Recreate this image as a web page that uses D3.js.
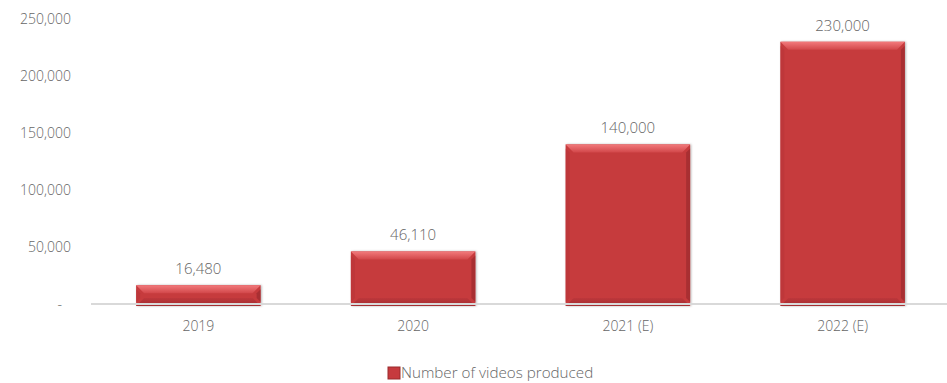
<!DOCTYPE html>
<html>
<head>
<meta charset="utf-8">
<script src="https://cdn.jsdelivr.net/npm/d3@7"></script>
<style>
  body { margin: 0; background: #fff; }
  text { font-family: "Open Sans", "Noto Sans", sans-serif; fill: #666; font-weight: 300; }
</style>
</head>
<body>
<svg id="svg"></svg>
<script>
var years = ["2019", "2020", "2021 (E)", "2022 (E)"];
var videos = [16480, 46110, 140000, 230000];
var yTicks = [0, 50000, 100000, 150000, 200000, 250000];
var seriesName = "Number of videos produced";

var width = 947, height = 383;
var svg = d3.select("#svg").attr("width", width).attr("height", height);

var x = d3.scaleBand().domain(years).range([91, 950]).paddingInner(0.42).paddingOuter(0.21);
var y = d3.scaleLinear().domain([0, 250000]).range([304, 19]);
var fmt = d3.format(",");

var defs = svg.append("defs");
var f = defs.append("filter").attr("id", "sh").attr("x", "-10%").attr("y", "-10%").attr("width", "130%").attr("height", "130%");
f.append("feDropShadow").attr("dx", 1).attr("dy", 0).attr("stdDeviation", 1.2).attr("flood-color", "#000").attr("flood-opacity", 0.3);

var gTop = defs.append("linearGradient").attr("id", "gTop").attr("x1", 0).attr("y1", 0).attr("x2", 0).attr("y2", 1);
gTop.append("stop").attr("offset", 0).attr("stop-color", "#f27a7c");
gTop.append("stop").attr("offset", 1).attr("stop-color", "#d2474a");
var gBot = defs.append("linearGradient").attr("id", "gBot").attr("x1", 0).attr("y1", 0).attr("x2", 0).attr("y2", 1);
gBot.append("stop").attr("offset", 0).attr("stop-color", "#bd373b");
gBot.append("stop").attr("offset", 1).attr("stop-color", "#a32e31");

// y axis labels
svg.append("g").selectAll("text").data(yTicks).enter().append("text")
  .attr("x", function(d) { return d === 0 ? 62 : 71; })
  .attr("y", function(d) { return y(d) + 5; })
  .attr("text-anchor", "end").style("font-size", "14px")
  .text(function(d) { return d === 0 ? "-" : fmt(d); });

var data = years.map(function(k, i) { return {year: k, v: videos[i]}; });
var bw = x.bandwidth(), bev = 8, sbev = 4;

var bars = svg.append("g").selectAll("g").data(data).enter().append("g");
bars.append("rect")
  .attr("x", function(d) { return x(d.year); })
  .attr("y", function(d) { return y(d.v); })
  .attr("width", bw)
  .attr("height", function(d) { return y(0) - y(d.v) + 2; })
  .attr("fill", "#c63a3e")
  .attr("filter", "url(#sh)");
// top bevel
bars.append("polygon").attr("fill", "url(#gTop)")
  .attr("points", function(d) {
    var x0 = x(d.year), t = y(d.v);
    return [[x0, t], [x0 + bw, t], [x0 + bw - bev, t + bev], [x0 + bev, t + bev]].join(" ");
  });
// bottom bevel
bars.append("polygon").attr("fill", "url(#gBot)")
  .attr("points", function(d) {
    var x0 = x(d.year), b = y(0) + 2;
    return [[x0 + bev, b - bev], [x0 + bw - bev, b - bev], [x0 + bw, b], [x0, b]].join(" ");
  });
// side bevels (subtle)
bars.append("polygon").attr("fill", "#b33337").attr("opacity", 0.45)
  .attr("points", function(d) {
    var x0 = x(d.year), t = y(d.v) + bev, b = y(0) + 2 - bev;
    return [[x0, t - sbev], [x0 + sbev, t], [x0 + sbev, b], [x0, b + sbev]].join(" ");
  });
bars.append("polygon").attr("fill", "#8f2629").attr("opacity", 0.55)
  .attr("points", function(d) {
    var x0 = x(d.year) + bw, t = y(d.v) + bev, b = y(0) + 2 - bev;
    return [[x0, t - sbev], [x0 - sbev, t], [x0 - sbev, b], [x0, b + sbev]].join(" ");
  });

// value labels
svg.append("g").selectAll("text").data(data).enter().append("text")
  .attr("x", function(d) { return x(d.year) + bw / 2; })
  .attr("y", function(d) { return y(d.v) - 11; })
  .attr("text-anchor", "middle").style("font-size", "15px")
  .text(function(d) { return fmt(d.v); });

// baseline
svg.append("line").attr("x1", 91).attr("x2", 947).attr("y1", y(0)).attr("y2", y(0))
  .attr("stroke", "#d9d9d9").attr("stroke-width", 2);

// x axis labels
svg.append("g").selectAll("text").data(years).enter().append("text")
  .attr("x", function(d) { return x(d) + bw / 2; })
  .attr("y", 331).attr("text-anchor", "middle").style("font-size", "14px")
  .text(function(d) { return d; });

// legend
svg.append("rect").attr("x", 388).attr("y", 367).attr("width", 12).attr("height", 12)
  .attr("fill", "#c63a3e").attr("stroke", "#9a2a2d").attr("stroke-width", 1);
svg.append("text").attr("x", 401).attr("y", 378).style("font-size", "15.2px").text(seriesName);
</script>
</body>
</html>
